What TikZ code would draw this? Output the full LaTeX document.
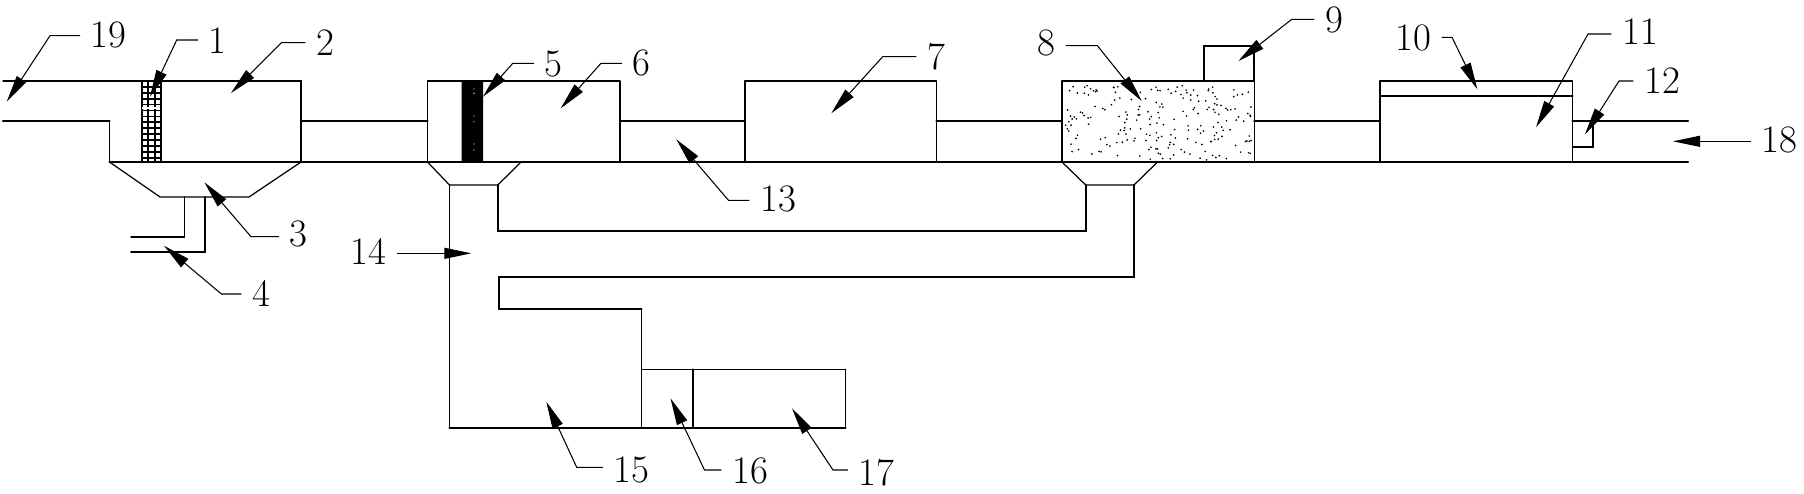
\documentclass[tikz,border=0pt]{standalone}
\usepackage{tkz-euclide}
\usetikzlibrary{arrows.meta}
\tikzset{
  numlabel/.style={inner xsep=.16cm,inner ysep=0pt,scale=.64,font=\fontsize{17.28}{20}\selectfont},
  leaderline/.style={line width=.3pt,-{Triangle[length=.27cm,width=.11cm]}}
}
\begin{document}
\begin{tikzpicture}[x=.01cm,y=-.01cm]
    \useasboundingbox (0,0) rectangle (1804,493);
    \tkzDefPoint(3,81){T0}
    \tkzDefPoint(3,121){S0}
    \tkzDefPoint(109.5,121){S1}
    \tkzDefPoint(109.5,162){S2}
    \tkzDefPoint(301,81){B2a}
    \tkzDefPoint(301,121){B2b}
    \tkzDefPoint(301,162){B2c}
    \tkzDefPoint(427.5,81){B6a}
    \tkzDefPoint(427.5,121){B6b}
    \tkzDefPoint(427.5,162){B6c}
    \tkzDefPoint(620,162){B6d}
    \tkzDefPoint(620,121){B6e}
    \tkzDefPoint(620,81){B6f}
    \tkzDefPoint(745,81){B7a}
    \tkzDefPoint(745,121){B7b}
    \tkzDefPoint(745,162){B7c}
    \tkzDefPoint(936.5,162){B7d}
    \tkzDefPoint(936.5,121){B7e}
    \tkzDefPoint(936.5,81){B7f}
    \tkzDefPoint(1062,81){B8a}
    \tkzDefPoint(1062,121){B8b}
    \tkzDefPoint(1062,162){B8c}
    \tkzDefPoint(1254.3,162){B8d}
    \tkzDefPoint(1254.3,121){B8e}
    \tkzDefPoint(1254.3,81){B8f}
    \tkzDefPoint(1204,81){B9a}
    \tkzDefPoint(1204,45.7){B9b}
    \tkzDefPoint(1254.3,45.7){B9c}
    \tkzDefPoint(1380,81){B11a}
    \tkzDefPoint(1380,95.7){B11b}
    \tkzDefPoint(1380,121){B11c}
    \tkzDefPoint(1380,162){B11d}
    \tkzDefPoint(1572.5,162){B11e}
    \tkzDefPoint(1572.5,147){B11f}
    \tkzDefPoint(1572.5,121){B11g}
    \tkzDefPoint(1572.5,95.7){B11h}
    \tkzDefPoint(1572.5,81){B11i}
    \tkzDefPoint(1593,147){W1}
    \tkzDefPoint(1593,121){W2}
    \tkzDefPoint(1688,121){E1}
    \tkzDefPoint(1688,162){E2}
    \tkzDefPoint(160,197){H3a}
    \tkzDefPoint(249,197){H3b}
    \tkzDefPoint(184.6,197){O1}
    \tkzDefPoint(184.6,237){O2}
    \tkzDefPoint(131,237){O3}
    \tkzDefPoint(204.8,197){O4}
    \tkzDefPoint(204.8,251.7){O5}
    \tkzDefPoint(131,251.7){O6}
    \tkzDefPoint(449.5,185){H5a}
    \tkzDefPoint(497.8,185){H5b}
    \tkzDefPoint(521,162){H5c}
    \tkzDefPoint(1085.7,185){H8a}
    \tkzDefPoint(1134,185){H8b}
    \tkzDefPoint(1157.5,162){H8c}
    \tkzDefPoint(497.8,231){P1}
    \tkzDefPoint(1085.7,231){P2}
    \tkzDefPoint(1134,276.7){P3}
    \tkzDefPoint(498.9,276.7){P4}
    \tkzDefPoint(498.9,309){P5}
    \tkzDefPoint(641.6,309){P6}
    \tkzDefPoint(641.6,369.3){P7}
    \tkzDefPoint(641.6,427.7){P8}
    \tkzDefPoint(449.5,427.7){P9}
    \tkzDefPoint(693,369.3){P10}
    \tkzDefPoint(693,427.7){P11}
    \tkzDefPoint(845.6,369.3){P12}
    \tkzDefPoint(845.6,427.7){P13}
    \tkzDefPoint(461.5,81){F1}
    \tkzDefPoint(483,81){F2}
    \tkzDefPoint(483,162){F3}
    \tkzDefPoint(461.5,162){F4}
    \tkzFillPolygon[fill=black](F1,F2,F3,F4)
    \foreach \y in {89,93.3,116,121.7,144,150}
      \fill[white] (474,\y) circle [radius=.7];
    \foreach \x in {148,155}
      \draw[line width=.55pt] (\x,81) -- (\x,162);
    \foreach \x in {142,161}
      \draw[line width=.8pt] (\x,81) -- (\x,162);
    \foreach \i in {0,...,13}
      \draw[line width=.5pt] (142,81+5.9*\i) -- (161,81+5.9*\i);
    \draw[white,line width=.6pt] (142,107.7) -- (156,107.7);
    \pgfmathsetseed{81}
    \foreach \i in {1,...,210} {
      \pgfmathsetmacro\dotx{1065+rnd*187}
      \pgfmathsetmacro\doty{84+rnd*76}
      \fill (\dotx,\doty) circle [radius=.95];
    }
    \tkzDrawPolySeg[line width=.35pt](S1,S2)
    \tkzDrawPolySeg[line width=.35pt](T0,B2a,B2c)
    \tkzDrawPolygon[line width=.35pt](B6a,B6f,B6d,B6c)
    \tkzDrawPolygon[line width=.35pt](B7a,B7f,B7d,B7c)
    \tkzDrawPolygon[line width=.35pt](B8a,B8f,B8d,B8c)
    \tkzDrawPolySeg[line width=.5pt](B9a,B9b,B9c,B8f)
    \tkzDrawPolygon[line width=.35pt](B11a,B11i,B11e,B11d)
    \tkzDrawSegments[line width=.65pt](S0,S1 B2b,B6b B6e,B7b B7e,B8b B8e,B11c B11g,E1 S2,E2 B11b,B11h)
    \tkzDrawPolySeg[line width=.35pt](S2,H3a,H3b,B2c)
    \tkzDrawPolySeg[line width=.4pt](O1,O2,O3)
    \tkzDrawPolySeg[line width=.55pt](O4,O5,O6)
    \tkzDrawPolySeg[line width=.35pt](B6c,H5a,H5b,H5c)
    \tkzDrawPolySeg[line width=.35pt](B8c,H8a,H8b,H8c)
    \tkzDrawPolySeg[line width=.45pt](H5b,P1,P2,H8a)
    \tkzDrawPolySeg[line width=.6pt](H8b,P3,P4,P5,P6)
    \tkzDrawSegments[line width=.4pt](P6,P8 H5a,P9 P7,P12 P12,P13 B11f,W1)
    \tkzDrawSegments[line width=.6pt](P9,P13 P10,P11 W1,W2)
    \node[numlabel] (n1) at (217.5,40.7) {1};
    \node[numlabel] (n2) at (325,42.7) {2};
    \node[numlabel] (n3) at (298.5,234) {3};
    \node[numlabel] (n4) at (261,293.3) {4};
    \node[numlabel] (n5) at (553.6,64) {5};
    \node[numlabel] (n6) at (641.5,63.3) {6};
    \node[numlabel] (n7) at (936,57) {7};
    \node[numlabel] (n8) at (1046,42.7) {8};
    \node[numlabel] (n9) at (1334,20) {9};
    \node[numlabel] (n10) at (1413,38.3) {10};
    \node[numlabel] (n11) at (1640,32) {11};
    \node[numlabel] (n12) at (1662,80.7) {12};
    \node[numlabel] (n13) at (778,199) {13};
    \node[numlabel] (n14) at (368.5,251) {14};
    \node[numlabel] (n15) at (631.3,470) {15};
    \node[numlabel] (n16) at (750,471) {16};
    \node[numlabel] (n17) at (876.4,472.3) {17};
    \node[numlabel] (n18) at (1779.5,140) {18};
    \node[numlabel] (n19) at (108.7,35) {19};
    \coordinate (k1) at (176.7,40);
    \coordinate (k2) at (281.5,42.7);
    \coordinate (k3) at (251,236.7);
    \coordinate (k4) at (221.4,294);
    \coordinate (k5) at (512.8,63.3);
    \coordinate (k6) at (601,63.3);
    \coordinate (k7) at (882.7,56.7);
    \coordinate (k8) at (1097.4,45.7);
    \coordinate (k9) at (1291.7,19.3);
    \coordinate (k10) at (1452,37.3);
    \coordinate (k11) at (1588,34);
    \coordinate (k12) at (1619,81);
    \coordinate (k13) at (728.5,200.3);
    \coordinate (k14) at (420,253.3);
    \coordinate (k15) at (576.7,467.3);
    \coordinate (k16) at (704.5,470);
    \coordinate (k17) at (833,470);
    \coordinate (k18) at (1720,141.3);
    \coordinate (k19) at (50,35.7);
    \coordinate (e1) at (150,96.7);
    \coordinate (e2) at (231,93);
    \coordinate (e3) at (204.4,182.3);
    \coordinate (e4) at (164,245.7);
    \coordinate (e5) at (483,96.7);
    \coordinate (e6) at (560.7,108.3);
    \coordinate (e7) at (831.3,113.3);
    \coordinate (e8) at (1141.7,101);
    \coordinate (e9) at (1238.5,61);
    \coordinate (e10) at (1477.3,89.3);
    \coordinate (e11) at (1536,127.3);
    \coordinate (e12) at (1585,134.3);
    \coordinate (e13) at (676.3,139.3);
    \coordinate (e14) at (471.3,253.3);
    \coordinate (e15) at (546.3,401.7);
    \coordinate (e16) at (670.5,398.3);
    \coordinate (e17) at (792,408.3);
    \coordinate (e18) at (1673,141.3);
    \coordinate (e19) at (6.7,101.7);
    \draw[leaderline] (n1.west |- k1) -- (k1) -- (e1);
    \draw[leaderline] (n2.west |- k2) -- (k2) -- (e2);
    \draw[leaderline] (n3.west |- k3) -- (k3) -- (e3);
    \draw[leaderline] (n4.west |- k4) -- (k4) -- (e4);
    \draw[leaderline] (n5.west |- k5) -- (k5) -- (e5);
    \draw[leaderline] (n6.west |- k6) -- (k6) -- (e6);
    \draw[leaderline] (n7.west |- k7) -- (k7) -- (e7);
    \draw[leaderline] (n8.east |- k8) -- (k8) -- (e8);
    \draw[leaderline] (n9.west |- k9) -- (k9) -- (e9);
    \draw[leaderline] (n10.east |- k10) -- (k10) -- (e10);
    \draw[leaderline] (n11.west |- k11) -- (k11) -- (e11);
    \draw[leaderline] (n12.west |- k12) -- (k12) -- (e12);
    \draw[leaderline] (n13.west |- k13) -- (k13) -- (e13);
    \draw[leaderline] (n14.east |- k14) -- (e14);
    \draw[leaderline] (n15.west |- k15) -- (k15) -- (e15);
    \draw[leaderline] (n16.west |- k16) -- (k16) -- (e16);
    \draw[leaderline] (n17.west |- k17) -- (k17) -- (e17);
    \draw[leaderline] (n18.west |- k18) -- (e18);
    \draw[leaderline] (n19.west |- k19) -- (k19) -- (e19);
\end{tikzpicture}
\end{document}
